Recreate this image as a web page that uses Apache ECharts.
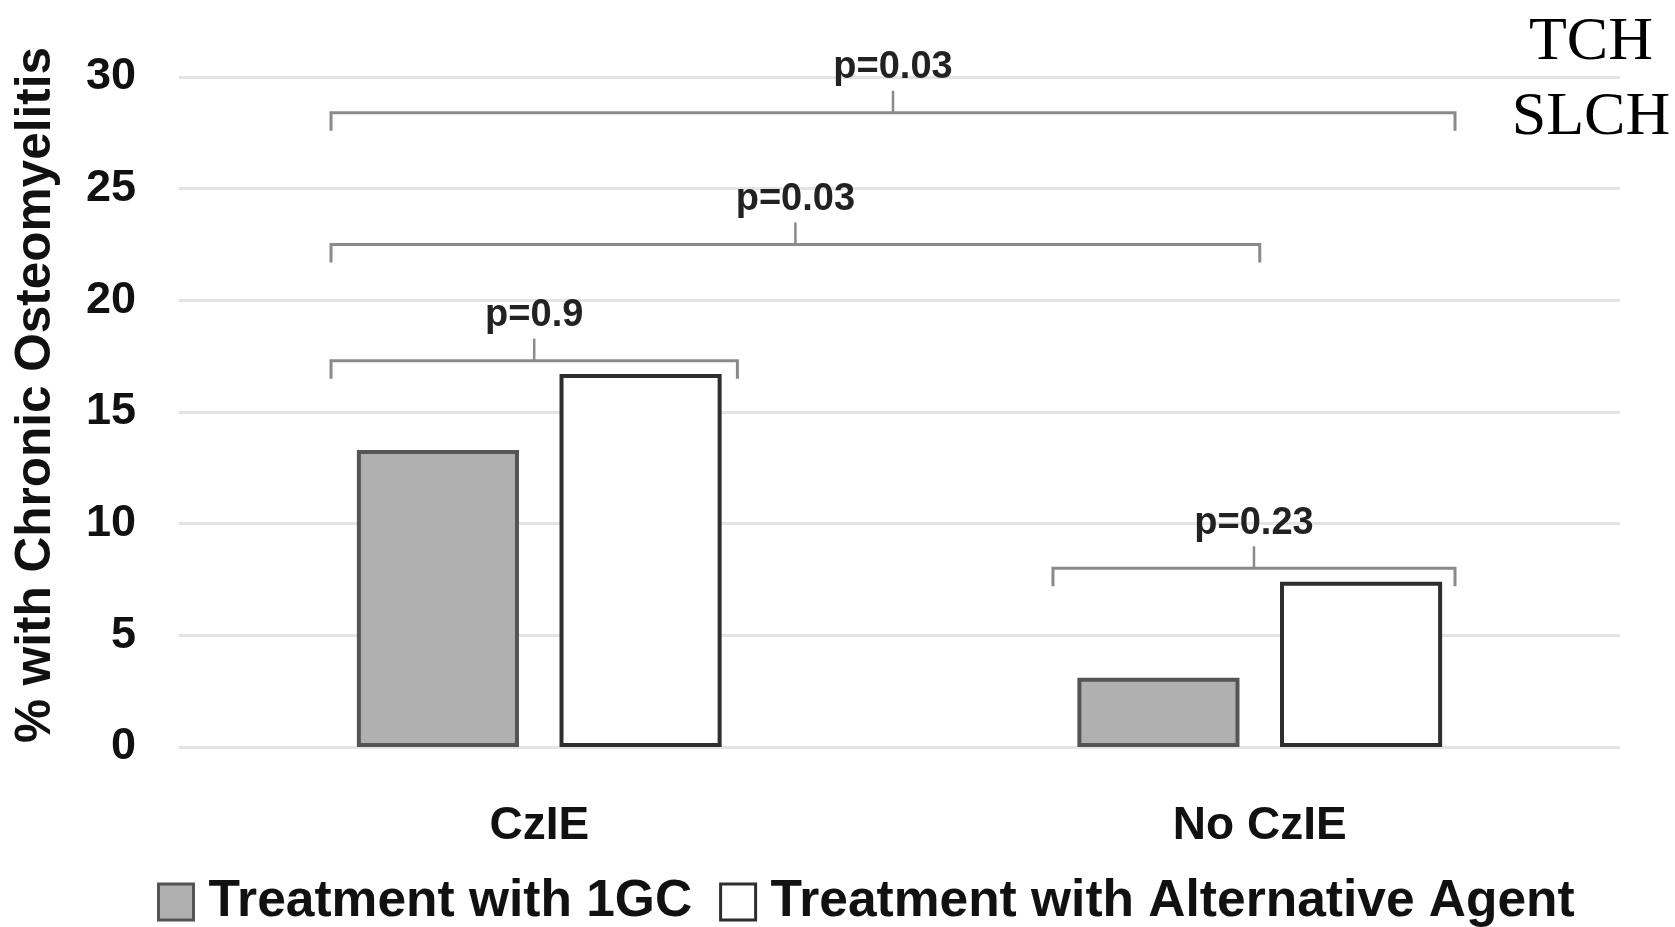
<!DOCTYPE html>
<html>
<head>
<meta charset="utf-8">
<script src="https://cdn.jsdelivr.net/npm/echarts@6/dist/echarts.min.js"></script>
<style>
html,body{margin:0;padding:0;background:#fff;}
#chart{width:1675px;height:927px;}
</style>
</head>
<body>
<div id="chart"></div>
<script>
// ---- data ----
var categories = ['CzIE', 'No CzIE'];
var seriesNames = ['Treatment with 1GC', 'Treatment with Alternative Agent'];
var values1GC = [13.3, 3.1];
var valuesAlt = [16.7, 7.4];
var yTicks = [0, 5, 10, 15, 20, 25, 30];
var yAxisTitle = '% with Chronic Osteomyelitis';
// brackets (x in category units: 0 = CzIE centre, 1 = No CzIE centre)
var bracketFrom = [-0.289, -0.289, -0.289, 0.713];
var bracketTo = [0.275, 1.0, 1.271, 1.271];
var bracketLevel = [17.3, 22.5, 28.4, 8.0];
var bracketLabels = ['p=0.9', 'p=0.03', 'p=0.03', 'p=0.23'];
var cornerText = 'TCH\nSLCH';

var FONT = "'Liberation Sans', Arial, sans-serif";
var chart = echarts.init(document.getElementById('chart'));

var bracketData = bracketFrom.map(function (f, i) {
  return [f, bracketTo[i], bracketLevel[i], i];
});

var option = {
  animation: false,
  backgroundColor: '#ffffff',
  grid: { left: 179, right: 55, top: 77, bottom: 180, containLabel: false },
  graphic: [{
    type: 'text',
    x: 1591, y: 5,
    style: {
      text: cornerText,
      fontFamily: "'Liberation Serif', 'Times New Roman', serif",
      fontSize: 62,
      lineHeight: 75,
      fill: '#000',
      align: 'center',
      verticalAlign: 'top'
    }
  }],
  legend: {
    data: seriesNames,
    left: 157,
    top: 876,
    padding: 0,
    itemGap: 27,
    itemWidth: 35,
    itemHeight: 36,
    icon: 'rect',
    itemStyle: { borderWidth: 3 },
    textStyle: {
      fontFamily: FONT, fontSize: 51.5, fontWeight: 'bold', color: '#111',
      lineHeight: 51, padding: [0, 0, 0, 10]
    }
  },
  xAxis: [{
    type: 'category',
    data: categories,
    axisLine: { show: false },
    axisTick: { show: false },
    axisLabel: {
      fontFamily: FONT, fontSize: 46, fontWeight: 'bold', color: '#111',
      lineHeight: 46, margin: 56
    }
  }, {
    type: 'value',
    min: -0.5, max: 1.5,
    show: false
  }],
  yAxis: {
    type: 'value',
    min: yTicks[0],
    max: yTicks[yTicks.length - 1],
    interval: yTicks[1] - yTicks[0],
    name: yAxisTitle,
    nameLocation: 'middle',
    nameGap: 118,
    nameTextStyle: {
      fontFamily: FONT, fontSize: 49.5, fontWeight: 'bold', color: '#111',
      padding: [0, 0, 0, 34]
    },
    axisLine: { show: false },
    axisTick: { show: false },
    axisLabel: {
      fontFamily: FONT, fontSize: 45, fontWeight: 'bold', color: '#111', margin: 43
    },
    splitLine: { lineStyle: { color: '#e4e4e4', width: 3 } }
  },
  series: [{
    name: seriesNames[0],
    type: 'bar',
    data: values1GC,
    barWidth: '22.5%',
    barGap: '25%',
    itemStyle: { color: '#b0b0b0', borderColor: '#555555', borderWidth: 4 }
  }, {
    name: seriesNames[1],
    type: 'bar',
    data: valuesAlt,
    barWidth: '22.5%',
    barGap: '25%',
    itemStyle: { color: '#ffffff', borderColor: '#2e2e2e', borderWidth: 4 }
  }, {
    type: 'custom',
    xAxisIndex: 1,
    yAxisIndex: 0,
    data: bracketData,
    encode: { x: [0, 1], y: 2 },
    silent: true,
    z: 5,
    renderItem: function (params, api) {
      var p0 = api.coord([api.value(0), api.value(2)]);
      var p1 = api.coord([api.value(1), api.value(2)]);
      var idx = api.value(3);
      var drop = 18, tick = 22;
      var mid = (p0[0] + p1[0]) / 2;
      var y = p0[1];
      return {
        type: 'group',
        children: [{
          type: 'polyline',
          shape: { points: [[p0[0], y + drop], [p0[0], y], [p1[0], y], [p1[0], y + drop]] },
          style: { stroke: '#8a8a8a', lineWidth: 3, fill: null }
        }, {
          type: 'line',
          shape: { x1: mid, y1: y, x2: mid, y2: y - tick },
          style: { stroke: '#8a8a8a', lineWidth: 2.5 }
        }, {
          type: 'text',
          x: mid, y: y - tick - 4,
          style: {
            text: bracketLabels[idx],
            fontFamily: FONT, fontSize: 38, fontWeight: 'bold', lineHeight: 38,
            fill: '#222', align: 'center', verticalAlign: 'bottom'
          }
        }]
      };
    }
  }]
};
chart.setOption(option);
</script>
</body>
</html>
